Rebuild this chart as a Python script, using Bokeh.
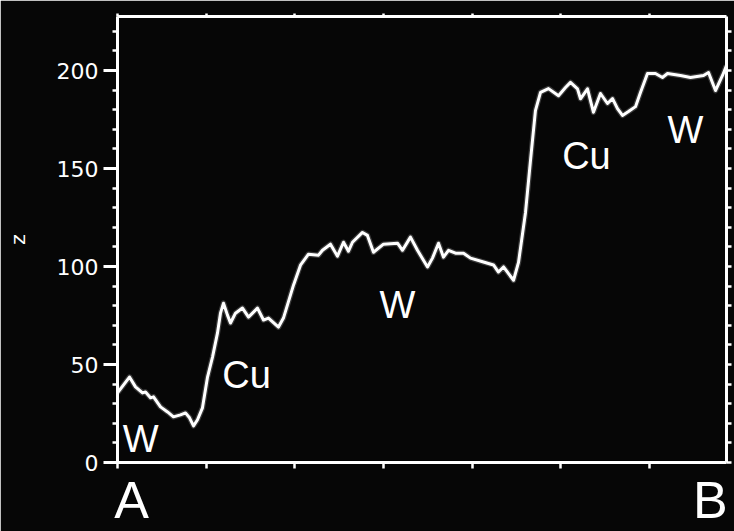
from bokeh.plotting import figure
from bokeh.models import Range1d, LinearAxis, SingleIntervalTicker, FixedTicker
from bokeh.embed import file_html
from bokeh.resources import INLINE
from bokeh.core.properties import value

# Profile from A to B (position in tick units, height z)
position = [0.000, 0.135, 0.203, 0.282, 0.316, 0.372, 0.406, 0.485, 0.564, 0.631,
            0.710, 0.767, 0.812, 0.857, 0.902, 0.958, 1.015, 1.071, 1.127, 1.161,
            1.195, 1.240, 1.274, 1.330, 1.409, 1.477, 1.578, 1.646, 1.702, 1.815,
            1.871, 1.984, 2.063, 2.153, 2.266, 2.311, 2.401, 2.480, 2.548, 2.604,
            2.649, 2.762, 2.818, 2.886, 2.999, 3.157, 3.213, 3.303, 3.382, 3.495,
            3.551, 3.619, 3.675, 3.732, 3.811, 3.901, 3.980, 4.126, 4.239, 4.295,
            4.352, 4.465, 4.521, 4.600, 4.656, 4.712, 4.769, 4.859, 4.972, 5.051,
            5.107, 5.186, 5.220, 5.299, 5.366, 5.445, 5.524, 5.581, 5.637, 5.693,
            5.761, 5.840, 5.896, 5.975, 6.065, 6.144, 6.201, 6.347, 6.460, 6.607,
            6.663, 6.742, 6.821, 6.866]
height_z = [35.5, 43.6, 38.6, 35.5, 36.0, 33.0, 33.5, 28.4, 25.8, 23.3,
            24.3, 25.3, 22.8, 18.7, 21.8, 27.9, 43.6, 53.8, 66.0, 76.2,
            81.3, 75.2, 71.2, 76.2, 78.8, 74.2, 78.8, 72.7, 73.7, 69.1,
            73.7, 90.5, 100.7, 106.3, 105.8, 108.3, 111.4, 105.3, 112.4, 107.8,
            112.4, 117.4, 115.9, 107.3, 111.4, 111.9, 108.3, 115.0, 108.3, 99.8,
            104.3, 111.9, 104.8, 108.3, 106.8, 106.8, 104.3, 102.3, 100.8, 97.2,
            99.8, 93.0, 102.1, 127.6, 154.1, 179.6, 188.9, 190.8, 187.2, 191.4,
            194.0, 190.7, 185.6, 190.7, 178.7, 188.3, 183.2, 185.7, 180.6, 177.1,
            179.1, 181.6, 188.8, 198.5, 198.5, 196.5, 198.5, 197.5, 196.5, 197.5,
            199.0, 189.8, 197.5, 202.6]

# Material region labels
region_labels = ["W", "Cu", "W", "Cu", "W"]
region_x = [0.26, 1.455, 3.157, 5.287, 6.404]
region_z = [12.0, 44.6, 80.6, 156.6, 169.6]

# End point labels along the profile axis
end_labels = ["A", "B"]
end_x = [0.158, 6.685]
x_minor_ticks = [0, 1, 2, 3, 4, 5, 6]
z_minor_ticks = [0, 10, 20, 30, 40, 50, 60, 70, 80, 90, 100, 110,
                 120, 130, 140, 150, 160, 170, 180, 190, 200, 210, 220]

BG = "#060606"
FG = "white"

p = figure(width=734, height=531, output_backend="svg", toolbar_location=None,
           x_range=Range1d(0, 6.866), y_range=Range1d(0, 227.6),
           x_axis_location=None, y_axis_location=None,
           min_border_left=117, min_border_right=8, min_border_top=16, min_border_bottom=68)
p.background_fill_color = BG
p.border_fill_color = BG
p.outline_line_color = None
p.xgrid.visible = False
p.ygrid.visible = False


def style_axis(ax, tick_out, minor_out):
    ax.axis_line_color = FG
    ax.axis_line_width = 3
    ax.major_tick_line_color = FG
    ax.minor_tick_line_color = FG
    ax.major_tick_line_width = 3
    ax.minor_tick_line_width = 2.5
    ax.major_tick_in = 0
    ax.minor_tick_in = 0
    ax.major_tick_out = tick_out
    ax.minor_tick_out = minor_out


left = LinearAxis(ticker=SingleIntervalTicker(interval=50, num_minor_ticks=5))
style_axis(left, 14, 5)
left.major_label_text_color = FG
left.major_label_text_font = "DejaVu Sans"
left.major_label_text_font_size = "22px"
left.major_label_standoff = 5
left.axis_label = "z"
left.axis_label_text_color = FG
left.axis_label_text_font = "DejaVu Sans"
left.axis_label_text_font_size = "20px"
left.axis_label_text_font_style = "normal"
left.axis_label_standoff = 24
p.add_layout(left, "left")

right = LinearAxis(ticker=FixedTicker(ticks=[], minor_ticks=z_minor_ticks))
style_axis(right, 0, 5)
right.major_label_standoff = 0
p.add_layout(right, "right")

bottom = LinearAxis(ticker=FixedTicker(ticks=end_x, minor_ticks=x_minor_ticks))
style_axis(bottom, 0, 6)
bottom.major_tick_line_color = None
bottom.major_label_overrides = {end_x[0]: end_labels[0], end_x[1]: end_labels[1]}
bottom.major_label_text_color = FG
bottom.major_label_text_font = "Liberation Sans"
bottom.major_label_text_font_size = "52px"
bottom.major_label_standoff = 2
p.add_layout(bottom, "below")

top = LinearAxis(ticker=FixedTicker(ticks=[], minor_ticks=x_minor_ticks))
style_axis(top, 0, 3)
top.major_label_standoff = 0
p.add_layout(top, "above")

# Profile line with soft glow
p.line(position, height_z, line_color="#9a9a9a", line_width=5.5, line_alpha=0.35, line_join="round")
p.line(position, height_z, line_color=FG, line_width=3, line_join="round")

p.text(x=region_x, y=region_z, text=region_labels, text_align="center",
       text_baseline="alphabetic", text_color=FG,
       text_font=value("Liberation Sans"), text_font_size="38px")

open("out.html", "w").write(file_html(p, INLINE))
